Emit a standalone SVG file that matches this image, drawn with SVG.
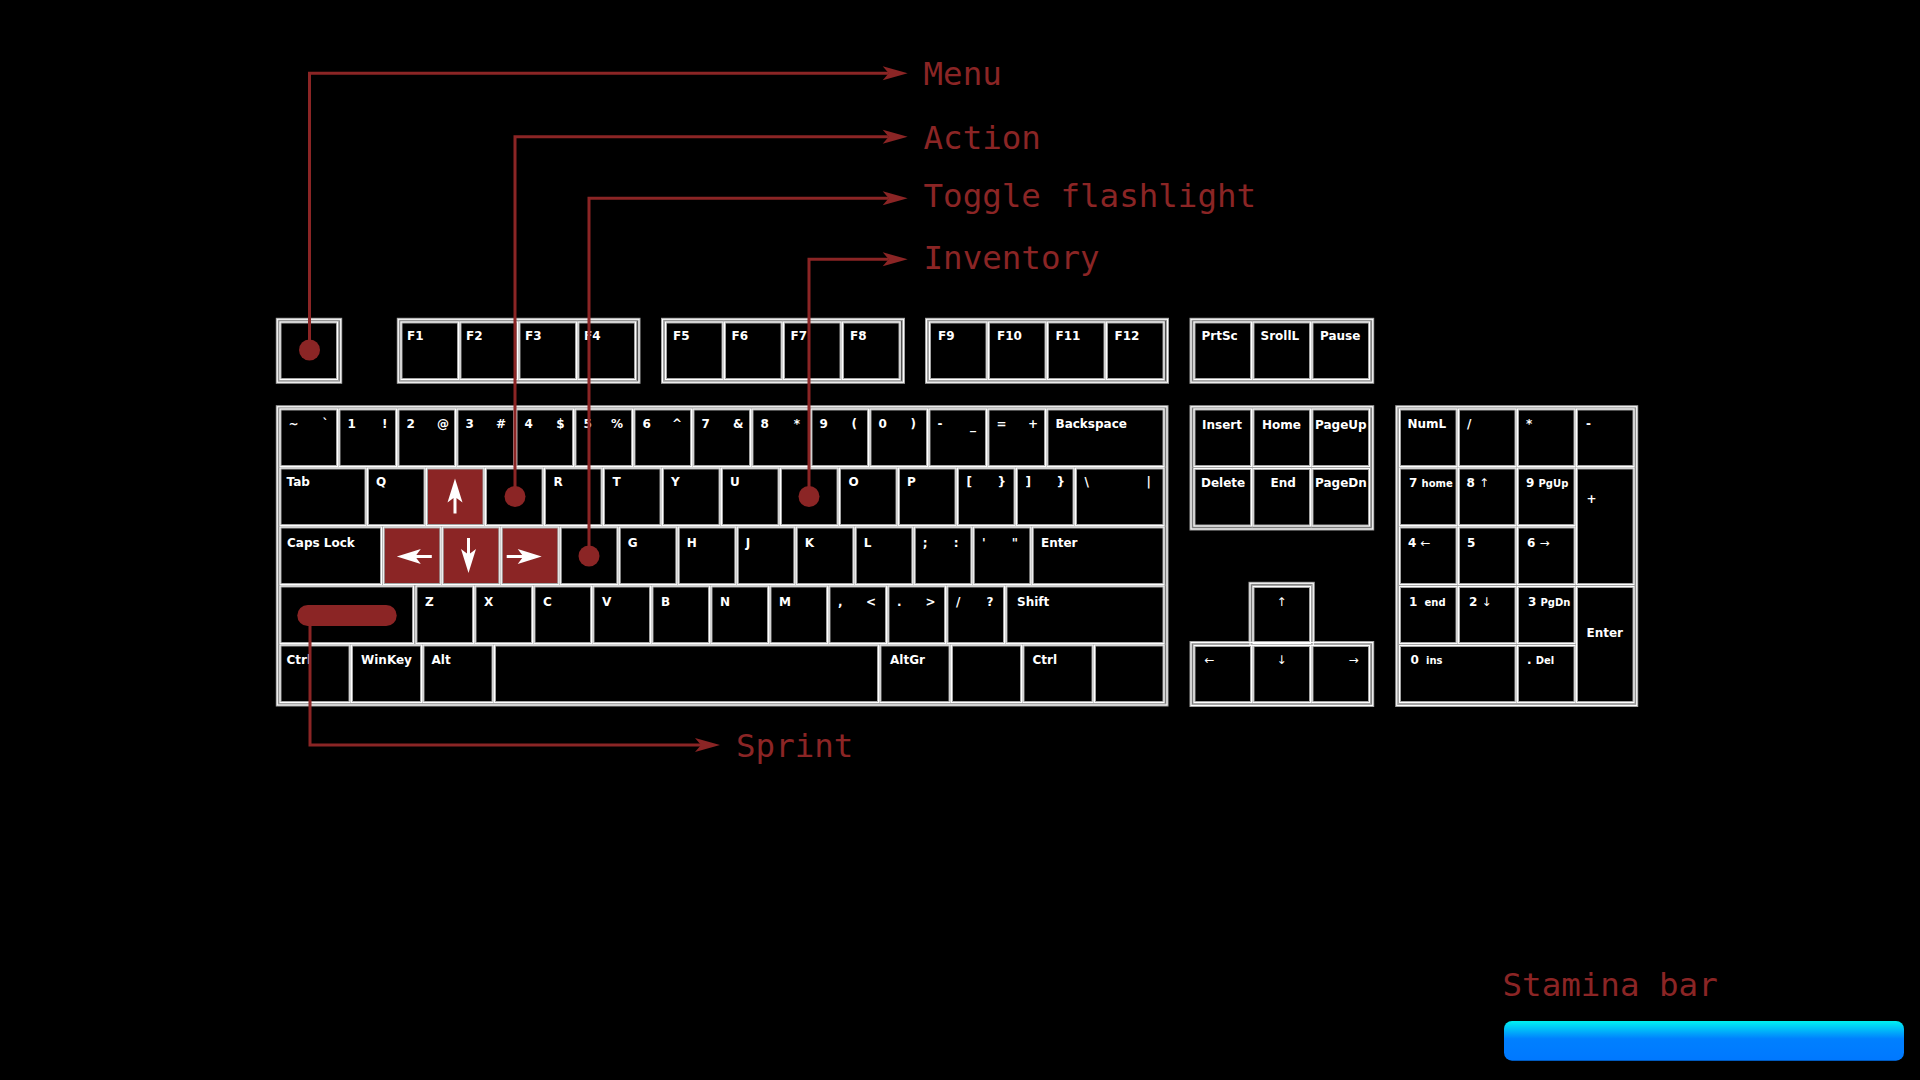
<svg xmlns="http://www.w3.org/2000/svg" xmlns:xlink="http://www.w3.org/1999/xlink" width="1920" height="1080" viewBox="0 0 1920 1080">
<style>
.t{font-family:"DejaVu Sans",sans-serif;font-weight:bold;font-size:12px;fill:#fff}
.s{font-size:10px}
.n{font-weight:normal}
.e{text-anchor:end}
.m{text-anchor:middle}
.lbl{font-family:"DejaVu Sans Mono",monospace;font-size:32.5px;fill:#8b2525}
.con{fill:none;stroke:#8b2525;stroke-width:3;stroke-linejoin:miter}
.red{fill:#8b2525}
</style>
<defs>
<marker id="ah" markerUnits="userSpaceOnUse" viewBox="-7 -8 28 16" markerWidth="28" markerHeight="16" refX="0" refY="0" orient="auto">
<path d="M-6,-7 L19,0 L-6,7 L0,0 Z" fill="#8b2525"/>
</marker>
<path id="arr" d="M0,-17 L7.5,7 L1.5,2.5 L1.5,18 L-1.5,18 L-1.5,2.5 L-7.5,7 Z" fill="#fff"/>
<linearGradient id="stam" x1="0" y1="0" x2="0" y2="1">
<stop offset="0" stop-color="#00f2f2"/>
<stop offset="0.45" stop-color="#0080ff"/>
<stop offset="1" stop-color="#0078ff"/>
</linearGradient>
<g id="keyset">
<!-- block outlines -->
<rect x="277.3" y="319.3" width="63.4" height="63"/>
<rect x="398.3" y="319.3" width="240.7" height="63"/>
<rect x="662.5" y="319.3" width="241" height="63"/>
<rect x="926.5" y="319.3" width="241" height="63"/>
<rect x="1191" y="319.3" width="181.7" height="63"/>
<rect x="277.3" y="406.7" width="889.7" height="298.3"/>
<rect x="1191" y="406.7" width="181.7" height="122.3"/>
<rect x="1191" y="642.5" width="181.7" height="63"/>
<rect x="1250" y="583.3" width="63.3" height="62"/>
<rect x="1396.7" y="406.7" width="240" height="298.8"/>
<!-- function row -->
<rect x="280" y="322" width="57.5" height="57.5"/>
<rect x="401" y="322" width="57.5" height="57.5"/>
<rect x="460" y="322" width="57.5" height="57.5"/>
<rect x="519" y="322" width="57.5" height="57.5"/>
<rect x="578" y="322" width="57.5" height="57.5"/>
<rect x="665.5" y="322" width="57.5" height="57.5"/>
<rect x="724.5" y="322" width="57.5" height="57.5"/>
<rect x="783.5" y="322" width="57.5" height="57.5"/>
<rect x="842.5" y="322" width="57.5" height="57.5"/>
<rect x="929.5" y="322" width="57.5" height="57.5"/>
<rect x="988.5" y="322" width="57.5" height="57.5"/>
<rect x="1047.5" y="322" width="57.5" height="57.5"/>
<rect x="1106.5" y="322" width="57.5" height="57.5"/>
<rect x="1194" y="322" width="57.5" height="57.5"/>
<rect x="1253" y="322" width="57.5" height="57.5"/>
<rect x="1312" y="322" width="57.5" height="57.5"/>
<!-- row 1 -->
<rect x="280" y="409" width="57.5" height="57.5"/>
<rect x="339" y="409" width="57.5" height="57.5"/>
<rect x="398" y="409" width="57.5" height="57.5"/>
<rect x="457" y="409" width="57.5" height="57.5"/>
<rect x="516" y="409" width="57.5" height="57.5"/>
<rect x="575" y="409" width="57.5" height="57.5"/>
<rect x="634" y="409" width="57.5" height="57.5"/>
<rect x="693" y="409" width="57.5" height="57.5"/>
<rect x="752" y="409" width="57.5" height="57.5"/>
<rect x="811" y="409" width="57.5" height="57.5"/>
<rect x="870" y="409" width="57.5" height="57.5"/>
<rect x="929" y="409" width="57.5" height="57.5"/>
<rect x="988" y="409" width="57.5" height="57.5"/>
<rect x="1047" y="409" width="117" height="57.5"/>
<!-- row 2 -->
<rect x="280" y="468" width="86" height="57.5"/>
<rect x="367.5" y="468" width="57.5" height="57.5"/>
<rect x="426.5" y="468" width="57.5" height="57.5"/>
<rect x="485.5" y="468" width="57.5" height="57.5"/>
<rect x="544.5" y="468" width="57.5" height="57.5"/>
<rect x="603.5" y="468" width="57.5" height="57.5"/>
<rect x="662.5" y="468" width="57.5" height="57.5"/>
<rect x="721.5" y="468" width="57.5" height="57.5"/>
<rect x="780.5" y="468" width="57.5" height="57.5"/>
<rect x="839.5" y="468" width="57.5" height="57.5"/>
<rect x="898.5" y="468" width="57.5" height="57.5"/>
<rect x="957.5" y="468" width="57.5" height="57.5"/>
<rect x="1016.5" y="468" width="57.5" height="57.5"/>
<rect x="1075.5" y="468" width="88.5" height="57.5"/>
<!-- row 3 -->
<rect x="280" y="527" width="101.5" height="57.5"/>
<rect x="383.3" y="527" width="57.5" height="57.5"/>
<rect x="442.3" y="527" width="57.5" height="57.5"/>
<rect x="501.3" y="527" width="57.5" height="57.5"/>
<rect x="560.3" y="527" width="57.5" height="57.5"/>
<rect x="619.3" y="527" width="57.5" height="57.5"/>
<rect x="678.3" y="527" width="57.5" height="57.5"/>
<rect x="737.3" y="527" width="57.5" height="57.5"/>
<rect x="796.3" y="527" width="57.5" height="57.5"/>
<rect x="855.3" y="527" width="57.5" height="57.5"/>
<rect x="914.3" y="527" width="57.5" height="57.5"/>
<rect x="973.3" y="527" width="57.5" height="57.5"/>
<rect x="1032.3" y="527" width="131.7" height="57.5"/>
<!-- row 4 -->
<rect x="280" y="586" width="133.5" height="57.5"/>
<rect x="416" y="586" width="57.5" height="57.5"/>
<rect x="475" y="586" width="57.5" height="57.5"/>
<rect x="534" y="586" width="57.5" height="57.5"/>
<rect x="593" y="586" width="57.5" height="57.5"/>
<rect x="652" y="586" width="57.5" height="57.5"/>
<rect x="711" y="586" width="57.5" height="57.5"/>
<rect x="770" y="586" width="57.5" height="57.5"/>
<rect x="829" y="586" width="57.5" height="57.5"/>
<rect x="888" y="586" width="57.5" height="57.5"/>
<rect x="947" y="586" width="57.5" height="57.5"/>
<rect x="1006" y="586" width="158" height="57.5"/>
<!-- row 5 -->
<rect x="280" y="645" width="70" height="57.5"/>
<rect x="351.5" y="645" width="70" height="57.5"/>
<rect x="423" y="645" width="70" height="57.5"/>
<rect x="494.5" y="645" width="384" height="57.5"/>
<rect x="880" y="645" width="70" height="57.5"/>
<rect x="951.5" y="645" width="70" height="57.5"/>
<rect x="1023" y="645" width="70" height="57.5"/>
<rect x="1094.5" y="645" width="69.5" height="57.5"/>
<!-- nav -->
<rect x="1194" y="409" width="57.5" height="57.5"/>
<rect x="1253" y="409" width="57.5" height="57.5"/>
<rect x="1312" y="409" width="57.5" height="57.5"/>
<rect x="1194" y="468.5" width="57.5" height="57.5"/>
<rect x="1253" y="468.5" width="57.5" height="57.5"/>
<rect x="1312" y="468.5" width="57.5" height="57.5"/>
<rect x="1253" y="586.5" width="57.5" height="57"/>
<rect x="1194" y="645.5" width="57.5" height="57"/>
<rect x="1253" y="645.5" width="57.5" height="57"/>
<rect x="1312" y="645.5" width="57.5" height="57"/>
<!-- numpad -->
<rect x="1399.5" y="409" width="57.5" height="57.5"/>
<rect x="1458.5" y="409" width="57.5" height="57.5"/>
<rect x="1517.5" y="409" width="57.5" height="57.5"/>
<rect x="1576.5" y="409" width="57.5" height="57.5"/>
<rect x="1399.5" y="468" width="57.5" height="57.5"/>
<rect x="1458.5" y="468" width="57.5" height="57.5"/>
<rect x="1517.5" y="468" width="57.5" height="57.5"/>
<rect x="1576.5" y="468" width="57.5" height="116.5"/>
<rect x="1399.5" y="527" width="57.5" height="57.5"/>
<rect x="1458.5" y="527" width="57.5" height="57.5"/>
<rect x="1517.5" y="527" width="57.5" height="57.5"/>
<rect x="1399.5" y="586.5" width="57.5" height="57"/>
<rect x="1458.5" y="586.5" width="57.5" height="57"/>
<rect x="1517.5" y="586.5" width="57.5" height="57"/>
<rect x="1576.5" y="586.5" width="57.5" height="116"/>
<rect x="1399.5" y="645.5" width="116.5" height="57"/>
<rect x="1517.5" y="645.5" width="57.5" height="57"/>
</g>
</defs>
<rect width="1920" height="1080" fill="#000"/>

<g id="keyboard">
<g id="hot-keys">
<rect class="red" x="426.5" y="468" width="57.5" height="57.5"/>
<rect class="red" x="383.3" y="527" width="57.5" height="57.5"/>
<rect class="red" x="442.3" y="527" width="57.5" height="57.5"/>
<rect class="red" x="501.3" y="527" width="57.5" height="57.5"/>
</g>
<use xlink:href="#keyset" fill="none" stroke="#a4a4a4" stroke-width="3"/>
<use xlink:href="#keyset" fill="none" stroke="#ffffff" stroke-width="1"/>
<g id="movement-arrows">
<use xlink:href="#arr" transform="translate(455,495.5)"/>
<use xlink:href="#arr" transform="translate(468.5,556) rotate(180)"/>
<use xlink:href="#arr" transform="translate(413.8,556.5) rotate(-90)"/>
<use xlink:href="#arr" transform="translate(524.7,556.5) rotate(90)"/>
</g>
<g id="key-labels" class="t">
<text x="407" y="339.5">F1</text><text x="466" y="339.5">F2</text><text x="525" y="339.5">F3</text><text x="584" y="339.5">F4</text>
<text x="673" y="339.5">F5</text><text x="731.5" y="339.5">F6</text><text x="790.5" y="339.5">F7</text><text x="850" y="339.5">F8</text>
<text x="938" y="339.5">F9</text><text x="997" y="339.5">F10</text><text x="1055.5" y="339.5">F11</text><text x="1114.5" y="339.5">F12</text>
<text x="1201.5" y="340">PrtSc</text><text x="1260.5" y="340">SrollL</text><text x="1320" y="340">Pause</text>

<text x="288.5" y="427.5">~</text><text class="e" x="328.5" y="427.5">`</text>
<text x="347.5" y="427.5">1</text><text class="e" x="387.5" y="427.5">!</text>
<text x="406.5" y="427.5">2</text><text class="e" x="449" y="427.5">@</text>
<text x="465.5" y="427.5">3</text><text class="e" x="506" y="427.5">#</text>
<text x="524.5" y="427.5">4</text><text class="e" x="564.5" y="427.5">$</text>
<text x="583.5" y="427.5">5</text><text class="e" x="623" y="427.5">%</text>
<text x="642.5" y="427.5">6</text><text class="e" x="682" y="427.5">^</text>
<text x="701.5" y="427.5">7</text><text class="e" x="743.5" y="427.5">&amp;</text>
<text x="760.5" y="427.5">8</text><text class="e" x="800" y="427.5">*</text>
<text x="819.5" y="427.5">9</text><text class="e" x="857" y="427.5">(</text>
<text x="878.5" y="427.5">0</text><text class="e" x="916" y="427.5">)</text>
<text x="937.5" y="427.5">-</text><text class="e" x="976" y="429">_</text>
<text x="996.5" y="427.5">=</text><text class="e" x="1038" y="427.5">+</text>
<text x="1055.5" y="427.5">Backspace</text>

<text x="286.5" y="486">Tab</text><text x="376" y="486">Q</text><text x="553.5" y="486">R</text><text x="612.5" y="486">T</text>
<text x="671" y="486">Y</text><text x="730" y="486">U</text><text x="848.5" y="486">O</text><text x="907" y="486">P</text>
<text x="966.5" y="486">[</text><text class="e" x="1006" y="486">}</text>
<text x="1025.5" y="486">]</text><text class="e" x="1065" y="486">}</text>
<text x="1084.5" y="486">\</text><text class="e" x="1151" y="486">|</text>

<text x="287" y="546.5">Caps Lock</text><text x="627.8" y="546.5">G</text><text x="686.8" y="546.5">H</text><text x="745.8" y="546.5">J</text>
<text x="804.8" y="546.5">K</text><text x="863.8" y="546.5">L</text>
<text x="922.8" y="546.5">;</text><text class="e" x="958.5" y="546.5">:</text>
<text x="982" y="546.5">'</text><text class="e" x="1018" y="546.5">"</text>
<text x="1041" y="546.5">Enter</text>

<text x="425" y="606">Z</text><text x="484" y="606">X</text><text x="543" y="606">C</text><text x="602" y="606">V</text>
<text x="661" y="606">B</text><text x="720" y="606">N</text><text x="779" y="606">M</text>
<text x="838" y="606">,</text><text class="e" x="876" y="606">&lt;</text>
<text x="897" y="606">.</text><text class="e" x="935.5" y="606">&gt;</text>
<text x="956" y="606">/</text><text class="e" x="993.5" y="606">?</text>
<text x="1017" y="605.5">Shift</text>

<text x="286.5" y="663.5">Ctrl</text><text x="361" y="663.5">WinKey</text><text x="431.5" y="663.5">Alt</text>
<text x="890" y="663.5">AltGr</text><text x="1032.5" y="663.5">Ctrl</text>

<text x="1202" y="428.5">Insert</text><text x="1262" y="428.5">Home</text><text x="1315" y="428.5">PageUp</text>
<text x="1201" y="486.5">Delete</text><text x="1270.5" y="486.5">End</text><text x="1315" y="486.5">PageDn</text>
<text class="n m" x="1281.5" y="606">↑</text>
<text class="n m" x="1209.5" y="664">←</text><text class="n m" x="1281.5" y="664">↓</text><text class="n m" x="1353.5" y="664">→</text>

<text x="1407.5" y="427.5">NumL</text><text x="1467" y="427.5">/</text><text x="1526" y="427.5">*</text><text x="1586" y="427.5">-</text>
<text x="1409" y="486.5">7 <tspan class="s">home</tspan></text>
<text x="1466.5" y="486.5">8 <tspan class="n">↑</tspan></text>
<text x="1526" y="486.5">9 <tspan class="s">PgUp</tspan></text>
<text x="1586.5" y="502.5">+</text>
<text x="1408" y="546.5">4 <tspan class="n">←</tspan></text>
<text x="1467" y="546.5">5</text>
<text x="1527" y="546.5">6 <tspan class="n">→</tspan></text>
<text x="1409" y="606">1 <tspan class="s" dx="3">end</tspan></text>
<text x="1469" y="606">2 <tspan class="n">↓</tspan></text>
<text x="1528" y="606">3 <tspan class="s">PgDn</tspan></text>
<text x="1586.5" y="636.5">Enter</text>
<text x="1410.5" y="663.5">0 <tspan class="s" dx="3">ins</tspan></text>
<text x="1527" y="663.5">. <tspan class="s">Del</tspan></text>
</g>
</g>

<g id="connectors">
<path class="con" d="M309.5,350 V73.3 H888.7" marker-end="url(#ah)"/>
<path class="con" d="M515,496.5 V136.7 H888.7" marker-end="url(#ah)"/>
<path class="con" d="M589,556 V198.3 H888.7" marker-end="url(#ah)"/>
<path class="con" d="M809,496.5 V259.3 H888.7" marker-end="url(#ah)"/>
<path class="con" d="M310,615.5 V745 H701" marker-end="url(#ah)"/>
</g>

<g id="bindings">
<circle class="red" cx="309.5" cy="350" r="10.5"/>
<circle class="red" cx="515" cy="496.5" r="10.5"/>
<circle class="red" cx="589" cy="556" r="10.5"/>
<circle class="red" cx="809" cy="496.5" r="10.5"/>
<rect class="red" x="297.3" y="605" width="99.4" height="21" rx="10.5"/>
</g>

<g id="node-menu"><text class="lbl" x="923.5" y="85">Menu</text></g>
<g id="node-action"><text class="lbl" x="923.5" y="148.5">Action</text></g>
<g id="node-toggle-flashlight"><text class="lbl" x="923.5" y="206.5">Toggle flashlight</text></g>
<g id="node-inventory"><text class="lbl" x="923.5" y="268.5">Inventory</text></g>
<g id="node-sprint"><text class="lbl" x="736" y="756.5">Sprint</text></g>

<g id="stamina-bar">
<text class="lbl" x="1502.5" y="996">Stamina bar</text>
<rect x="1504" y="1021" width="400" height="39.7" rx="8" fill="url(#stam)"/>
</g>
</svg>
